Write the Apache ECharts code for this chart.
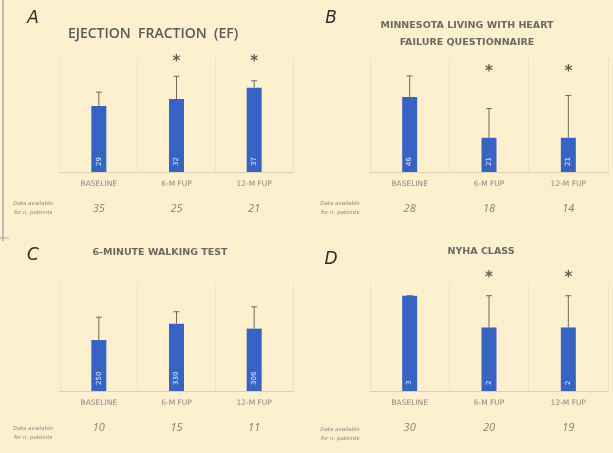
<!DOCTYPE html>
<html>
<head>
<meta charset="utf-8">
<script src="https://cdn.jsdelivr.net/npm/echarts@6/dist/echarts.min.js"></script>
<style>
  html, body { margin: 0; padding: 0; background: #fdf0cf; }
  #chart { width: 613px; height: 453px; }
</style>
</head>
<body>
<div id="chart"></div>
<script>
// Follow-up time points shared by all four panels
const categories = ['BASELINE', '6-M FUP', '12-M FUP'];

// A – ejection fraction (%)
const efMean = [29, 32, 37];
const efSd = [6, 10, 3];
const efN = [35, 25, 21];
const efSig = [false, true, true];

// B – Minnesota Living with Heart Failure score
const mlhfqMean = [46, 21, 21];
const mlhfqSd = [13, 18, 26];
const mlhfqN = [28, 18, 14];
const mlhfqSig = [false, true, true];

// C – 6-minute walking distance (m)
const walkMean = [250, 330, 306];
const walkSd = [112, 59, 107];
const walkN = [10, 15, 11];
const walkSig = [false, false, false];

// D – NYHA functional class
const nyhaMean = [3, 2, 2];
const nyhaSd = [0, 1, 1];
const nyhaN = [30, 20, 19];
const nyhaSig = [false, true, true];

const panels = [
  { mean: efMean, sd: efSd, n: efN, sig: efSig, yMax: 50, starY: 48,
    grid: { left: 60, width: 233, top: 58, height: 114 } },
  { mean: mlhfqMean, sd: mlhfqSd, n: mlhfqN, sig: mlhfqSig, yMax: 70, starY: 61.5,
    grid: { left: 370, width: 238, top: 58, height: 114 } },
  { mean: walkMean, sd: walkSd, n: walkN, sig: walkSig, yMax: 530, starY: 510,
    grid: { left: 60, width: 233, top: 283, height: 108 } },
  { mean: nyhaMean, sd: nyhaSd, n: nyhaN, sig: nyhaSig, yMax: 3.4, starY: 3.56,
    grid: { left: 370, width: 238, top: 283, height: 108 } }
];

const chart = echarts.init(document.getElementById('chart'), null, { renderer: 'canvas' });

const grids = [], xAxes = [], yAxes = [], series = [];

panels.forEach((p, gi) => {
  grids.push(Object.assign({ containLabel: false }, p.grid));
  xAxes.push({
    type: 'category',
    gridIndex: gi,
    data: categories,
    axisTick: { show: false },
    axisLine: { lineStyle: { color: '#d9cfb6', width: 1 } },
    splitLine: { show: true, lineStyle: { color: '#f1e4c6', width: 1 } },
    axisLabel: {
      interval: 0,
      hideOverlap: false,
      margin: 7,
      formatter: (v, i) => '{c|' + v + '}\n{n|' + p.n[i] + '}',
      rich: {
        c: { fontSize: 7.5, color: '#8c8a84', fontFamily: 'DejaVu Sans', lineHeight: 10 },
        n: { fontSize: 11, color: '#85827b', fontStyle: 'italic', fontFamily: 'Open Sans', lineHeight: 40 }
      }
    }
  });
  yAxes.push({ type: 'value', gridIndex: gi, min: 0, max: p.yMax, show: false });

  series.push({
    type: 'bar',
    xAxisIndex: gi,
    yAxisIndex: gi,
    data: p.mean,
    barWidth: 15,
    itemStyle: { color: '#3763c3' },
    label: {
      show: true,
      position: 'insideBottom',
      rotate: 90,
      align: 'left',
      verticalAlign: 'middle',
      distance: 6,
      fontSize: 7,
      color: '#e6eeff',
      fontFamily: 'DejaVu Sans'
    },
    z: 2
  });

  series.push({
    type: 'custom',
    xAxisIndex: gi,
    yAxisIndex: gi,
    data: p.mean.map((m, i) => [i, m, m + p.sd[i]]),
    renderItem: (params, api) => {
      const base = api.coord([api.value(0), api.value(1)]);
      const top = api.coord([api.value(0), api.value(2)]);
      const stroke = { stroke: '#6e6a60', lineWidth: 1 };
      return {
        type: 'group',
        children: [
          { type: 'line', shape: { x1: base[0], y1: base[1], x2: top[0], y2: top[1] }, style: stroke },
          { type: 'line', shape: { x1: top[0] - 3, y1: top[1], x2: top[0] + 3, y2: top[1] }, style: stroke }
        ]
      };
    },
    z: 3
  });

  series.push({
    type: 'scatter',
    xAxisIndex: gi,
    yAxisIndex: gi,
    clip: false,
    symbolSize: 0,
    data: p.sig.map((s, i) => s ? [i, p.starY] : null).filter(d => d),
    label: {
      show: true,
      position: 'inside',
      formatter: '*',
      fontSize: 15,
      fontWeight: 'bold',
      color: '#3a3a3a',
      fontFamily: 'DejaVu Sans'
    },
    z: 4
  });
});

const titleStyle = { fill: '#6a6a66', fontFamily: 'DejaVu Sans', fontWeight: 'bold', fontSize: 9.5, align: 'center', verticalAlign: 'middle' };
const letterStyle = { fill: '#2e2e2e', fontFamily: 'DejaVu Sans', fontStyle: 'italic', fontSize: 17, align: 'center', verticalAlign: 'middle' };
const captionStyle = { fill: '#8c8a84', fontFamily: 'DejaVu Sans', fontStyle: 'italic', fontSize: 5.5, align: 'center', verticalAlign: 'middle', lineHeight: 9 };

const graphic = [
  { type: 'line', shape: { x1: 3, y1: 0, x2: 3, y2: 241 }, style: { stroke: '#a4acac', lineWidth: 1.5 } },
  { type: 'line', shape: { x1: 0, y1: 238, x2: 9, y2: 238 }, style: { stroke: '#a4acac', lineWidth: 1 } },

  { type: 'text', x: 33, y: 19, style: Object.assign({}, letterStyle, { text: 'A' }) },
  { type: 'text', x: 331, y: 19, style: Object.assign({}, letterStyle, { text: 'B' }) },
  { type: 'text', x: 33, y: 256, style: Object.assign({}, letterStyle, { text: 'C' }) },
  { type: 'text', x: 331, y: 260, style: Object.assign({}, letterStyle, { text: 'D' }) },

  { type: 'text', x: 153, y: 34, style: Object.assign({}, titleStyle, { text: 'EJECTION  FRACTION  (EF)', fontSize: 14, fontWeight: 600, fontFamily: 'Open Sans', fill: '#5a5a56' }) },
  { type: 'text', x: 467, y: 34, style: Object.assign({}, titleStyle, { text: 'MINNESOTA LIVING WITH HEART\nFAILURE QUESTIONNAIRE', lineHeight: 17 }) },
  { type: 'text', x: 160, y: 253, style: Object.assign({}, titleStyle, { text: '6-MINUTE WALKING TEST' }) },
  { type: 'text', x: 481, y: 252, style: Object.assign({}, titleStyle, { text: 'NYHA CLASS' }) },

  { type: 'text', x: 33, y: 208, style: Object.assign({}, captionStyle, { text: 'Data available\nfor n. patients' }) },
  { type: 'text', x: 340, y: 208, style: Object.assign({}, captionStyle, { text: 'Data available\nfor n. patients' }) },
  { type: 'text', x: 33, y: 433, style: Object.assign({}, captionStyle, { text: 'Data available\nfor n. patients' }) },
  { type: 'text', x: 340, y: 434, style: Object.assign({}, captionStyle, { text: 'Data available\nfor n. patients' }) }
];

chart.setOption({
  backgroundColor: '#fdf0cf',
  animation: false,
  grid: grids,
  xAxis: xAxes,
  yAxis: yAxes,
  series: series,
  graphic: graphic
});
</script>
</body>
</html>
